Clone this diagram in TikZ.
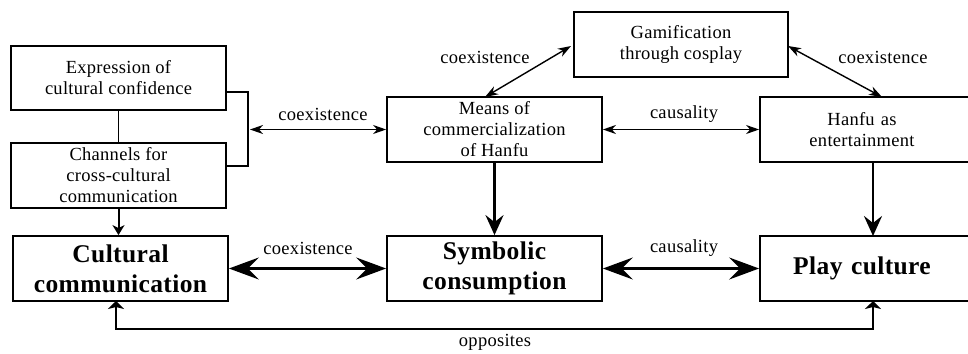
\documentclass[tikz,border=0pt]{standalone}
\usepackage{fontspec}
\setmainfont{Liberation Serif}[Ligatures=NoCommon, LetterSpace=1.5]
\usetikzlibrary{arrows.meta}
\tikzset{
  box/.style={draw, line width=1.8pt, inner sep=0pt, align=center, font=\fontsize{18.5}{21}\selectfont},
  bigbox/.style={box, font=\fontsize{25.5}{30}\selectfont\bfseries},
  lbl/.style={font=\fontsize{18.5}{21}\selectfont, inner sep=0pt},
  thin/.style={line width=1.4pt, {Stealth[length=13pt,width=9pt,inset=4pt]}-{Stealth[length=13pt,width=9pt,inset=4pt]}},
  thick/.style={line width=3pt, {Stealth[length=30pt,width=22pt,inset=11pt]}-{Stealth[length=30pt,width=22pt,inset=11pt]}},
  down/.style={line width=2.6pt, -{Stealth[length=20pt,width=18pt,inset=7pt]}},
  plain/.style={line width=1.8pt},
}
\begin{document}
\begin{tikzpicture}[x=1pt,y=-1pt]
\useasboundingbox (0,0) rectangle (968,353);
\clip (0,0) rectangle (968,353);
% nodes
\node[box, minimum width=215pt, minimum height=64pt] (expr) at (118.5,78) {Expression of\\cultural confidence};
\node[box, minimum width=215pt, minimum height=65pt] (chan) at (118.5,175.5) {Channels for\\cross-cultural\\communication};
\node[bigbox, minimum width=215pt, minimum height=65pt] (cult) at (120.5,268.5) {Cultural\\communication};
\node[box, minimum width=214pt, minimum height=65pt] (game) at (681,44.5) {Gamification\\through cosplay};
\node[box, minimum width=215pt, minimum height=65pt] (means) at (494.5,129.5) {Means of\\commercialization\\of Hanfu};
\node[bigbox, minimum width=215pt, minimum height=65pt] (symb) at (494.5,268.5) {Symbolic\\consumption};
\node[box, minimum width=214pt, minimum height=65pt, text width=204pt] (hanfu) at (867,129.5) {\hspace*{-10pt}Hanfu as\\\hspace*{-10pt}entertainment};
\node[bigbox, minimum width=214pt, minimum height=65pt, text width=204pt] (play) at (867,268.5) {\hspace*{-10pt}Play culture};
% coordinates
\coordinate (ebr) at (248,92);
\coordinate (cbr) at (248,166);
\coordinate (bm) at (248,129.5);
\coordinate (lo) at (116,329);
\coordinate (ro) at (873,329);
% left bracket
\draw[plain] (expr.south) -- (chan.north);
\draw[plain] (expr.east |- ebr) -- (ebr) -- (cbr) -- (chan.east |- cbr);
\draw[thin, shorten <=2pt] (bm) -- (means.west |- bm);
\draw[line width=2pt, -{Stealth[length=10pt,width=12pt,inset=3pt]}] (chan.south) -- (chan.south |- cult.north);
% thin arrows
\draw[thin] (485,97) -- (571,46);
\draw[thin] (788,46) -- (882,97);
\draw[thin] (means.east) -- (hanfu.west |- means.east);
% thick vertical
\draw[down] (means.south) -- (symb.north);
\draw[down] (873,162) -- (873,236);
% thick horizontal
\draw[thick] (cult.east) -- (symb.west);
\draw[thick] (symb.east) -- (play.west |- symb.east);
% opposites
\draw[line width=2pt, {Stealth[length=8pt,width=16pt,inset=2pt]}-{Stealth[length=8pt,width=16pt,inset=2pt]}] (116,301) -- (lo) -- (ro) -- (873,301);
% labels
\node[lbl] (l1) at (323,114) {coexistence};
\node[lbl] (l2) at (308,248) {coexistence};
\node[lbl] (l3) at (485,57) {coexistence};
\node[lbl] (l4) at (883,57) {coexistence};
\node[lbl] (l5) at (684,114) {causality};
\node[lbl] (l6) at (684,248) {causality};
\node[lbl] (l7) at (495,342) {opposites};
\end{tikzpicture}
\end{document}
